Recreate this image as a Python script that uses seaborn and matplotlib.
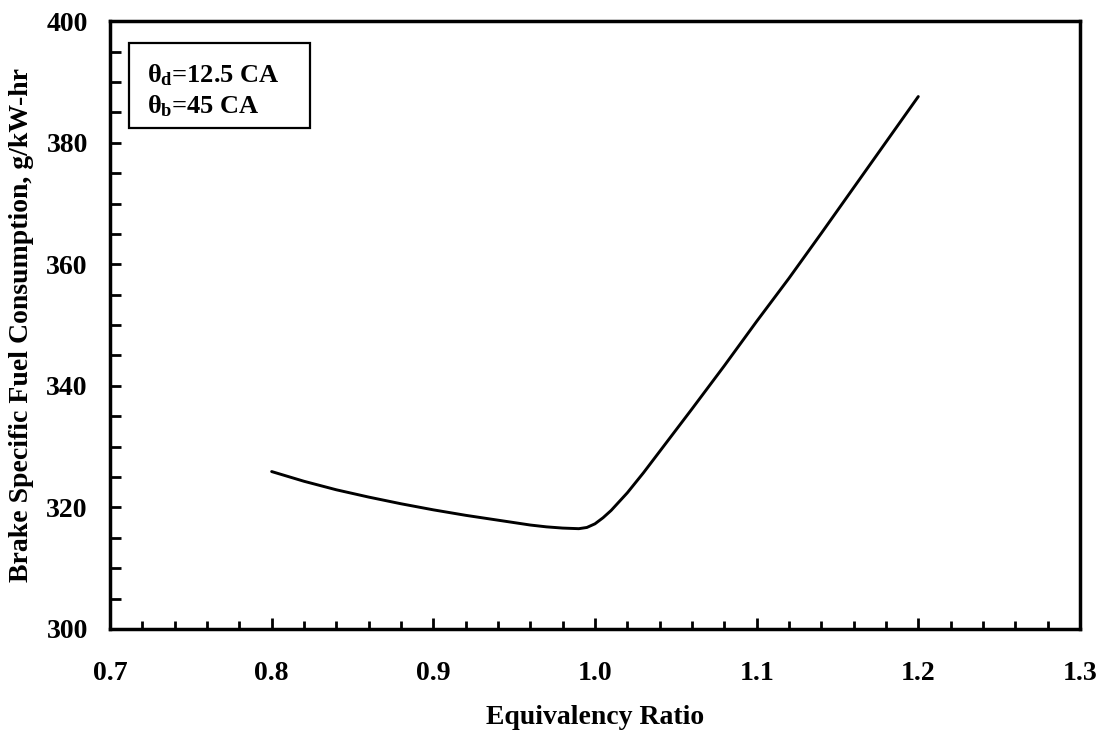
import matplotlib
matplotlib.use("Agg")
import matplotlib.pyplot as plt
import seaborn as sns
import pandas as pd
from matplotlib.ticker import MultipleLocator, FormatStrFormatter
from matplotlib.patches import Rectangle

equiv_ratio = [0.80, 0.82, 0.84, 0.86, 0.88, 0.90, 0.92, 0.94, 0.96, 0.97, 0.98, 0.985,
               0.99, 0.995, 1.00, 1.005, 1.01, 1.02, 1.03, 1.04, 1.06, 1.08, 1.10, 1.12,
               1.14, 1.16, 1.18, 1.20]
bsfc = [325.9, 324.3, 322.9, 321.7, 320.6, 319.6, 318.7, 317.9, 317.1, 316.8, 316.6, 316.55,
        316.5, 316.7, 317.3, 318.3, 319.5, 322.4, 325.7, 329.2, 336.2, 343.3, 350.6, 357.7,
        365.1, 372.6, 380.1, 387.6]

df = pd.DataFrame({"phi": equiv_ratio, "bsfc": bsfc})

sns.set_style("ticks")
plt.rcParams['font.family'] = ['Liberation Serif', 'DejaVu Serif']
plt.rcParams['font.weight'] = 'bold'
plt.rcParams['text.color'] = 'black'
plt.rcParams['axes.labelcolor'] = 'black'
plt.rcParams['xtick.color'] = 'black'
plt.rcParams['ytick.color'] = 'black'
plt.rcParams['mathtext.fontset'] = 'custom'
plt.rcParams['mathtext.rm'] = 'Liberation Serif:bold'
plt.rcParams['mathtext.it'] = 'Liberation Serif:bold'
plt.rcParams['mathtext.bf'] = 'Liberation Serif:bold'

fig = plt.figure(figsize=(11.02, 7.30), dpi=100)
ax = fig.add_axes([0.0998, 0.1384, 0.8802, 0.8326])

sns.lineplot(data=df, x="phi", y="bsfc", ax=ax, color="black", linewidth=2.1)

ax.set_xlim(0.7, 1.3)
ax.set_ylim(300, 400)
ax.xaxis.set_major_locator(MultipleLocator(0.1))
ax.xaxis.set_minor_locator(MultipleLocator(0.02))
ax.yaxis.set_major_locator(MultipleLocator(20))
ax.yaxis.set_minor_locator(MultipleLocator(5))
ax.xaxis.set_major_formatter(FormatStrFormatter('%.1f'))
ax.yaxis.set_major_formatter(FormatStrFormatter('%d'))

ax.tick_params(axis='both', which='major', direction='in', length=8, width=2,
               labelsize=20, color='black', labelcolor='black')
ax.tick_params(axis='both', which='minor', direction='in', length=6, width=2, color='black')
ax.tick_params(axis='y', which='minor', length=8)
ax.tick_params(axis='x', which='both', top=False, bottom=True, pad=23)
ax.tick_params(axis='y', which='both', right=False, left=True, pad=16)
for lab in ax.get_xticklabels() + ax.get_yticklabels():
    lab.set_fontweight('bold')

for s in ax.spines.values():
    s.set_linewidth(2.5)
    s.set_color('black')
    s.set_visible(True)

ax.set_xlabel("Equivalency Ratio", fontsize=20, fontweight='bold', labelpad=14)
ax.set_ylabel("Brake Specific Fuel Consumption, g/kW-hr", fontsize=20, fontweight='bold', labelpad=9)

ax.add_patch(Rectangle((0.0196, 0.824), 0.1866, 0.1398, transform=ax.transAxes,
                       facecolor='white', edgecolor='black', linewidth=1.6, zorder=3))
ax.text(0.038, 0.8997, "$\\theta_d$=12.5 CA", transform=ax.transAxes, fontsize=19,
        fontweight='bold', va='baseline', ha='left', zorder=4)
ax.text(0.038, 0.8487, "$\\theta_b$=45 CA", transform=ax.transAxes, fontsize=19,
        fontweight='bold', va='baseline', ha='left', zorder=4)

fig.savefig("out.png", dpi=100)
